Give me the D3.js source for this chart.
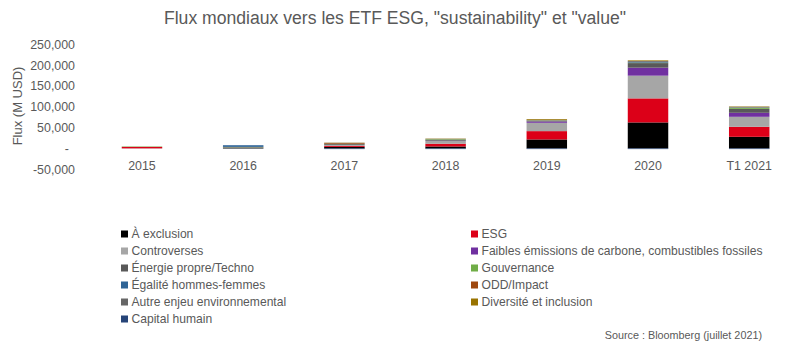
<!DOCTYPE html>
<html>
<head>
<meta charset="utf-8">
<script src="https://cdn.jsdelivr.net/npm/d3@7"></script>
<style>
  html, body { margin: 0; padding: 0; background: #fff; }
  svg { display: block; font-family: "Liberation Sans", Arial, sans-serif; }
</style>
</head>
<body>
<svg id="chart" width="789" height="342"></svg>
<script>
// Années (catégories de l'axe horizontal)
const categories = ["2015", "2016", "2017", "2018", "2019", "2020", "T1 2021"];

// Flux par thème, en millions de USD
const aExclusion   = [300, 1200, 3800, 4800, 21600, 62500, 28000];
const esg          = [3500, 300, 2400, 6500, 20000, 57700, 24000];
const controverses = [0, 0, 2000, 6500, 20000, 54500, 24000];
const faibles      = [0, 0, 300, 800, 3200, 19200, 9600];
const energie      = [0, 1500, 2000, 2000, 2000, 11000, 9500];
const gouvernance  = [1000, 800, 500, 1500, 800, 1000, 2400];
const egalite      = [0, 4000, 200, 300, 300, 1500, 600];
const odd          = [0, 0, 1800, 300, 400, 500, 300];
const autre        = [0, 0, 500, 400, 500, 2000, 1500];
const diversite    = [0, 0, 500, 700, 1800, 1500, 1000];
const capital      = [0, -300, -1500, -1500, -1500, -1500, -1500];

// Légende, ordre d'empilement et couleurs
const seriesNames = [
  "À exclusion", "ESG", "Controverses",
  "Faibles émissions de carbone, combustibles fossiles",
  "Énergie propre/Techno", "Gouvernance", "Égalité hommes-femmes",
  "ODD/Impact", "Autre enjeu environnemental", "Diversité et inclusion",
  "Capital humain"
];
const seriesValues = [aExclusion, esg, controverses, faibles, energie, gouvernance,
                      egalite, odd, autre, diversite, capital];
const seriesColors = ["#000000", "#dc0018", "#a6a6a6", "#7030a0", "#595959", "#70ad47",
                      "#2f6496", "#9e480e", "#666666", "#997300", "#264478"];

// Graduations de l'axe vertical
const yTicks = [-50000, 0, 50000, 100000, 150000, 200000, 250000];

const textColor = "#595959";
const svg = d3.select("#chart");

// Table ligne par année pour d3.stack
const table = categories.map((c, i) => {
  const row = { cat: c };
  seriesNames.forEach((n, k) => { row[n] = seriesValues[k][i]; });
  return row;
});

const stacked = d3.stack()
  .keys(seriesNames)
  .offset(d3.stackOffsetDiverging)(table);

const x = d3.scaleBand()
  .domain(categories)
  .range([101.5, 789.7])
  .paddingInner(0.6)
  .paddingOuter(0.2);

const y = d3.scaleLinear()
  .domain([-50000, 250000])
  .range([169.3, 44.3]);

// Titre
svg.append("text")
  .attr("x", 395)
  .attr("y", 24)
  .attr("text-anchor", "middle")
  .attr("font-size", 17.6)
  .attr("fill", textColor)
  .text('Flux mondiaux vers les ETF ESG, "sustainability" et "value"');

// Axe vertical (graduations uniquement)
const fmt = d3.format(",");
const yAxis = svg.append("g")
  .attr("transform", "translate(78,0)")
  .call(d3.axisLeft(y)
    .tickValues(yTicks)
    .tickSize(0)
    .tickPadding(3)
    .tickFormat(d => d === 0 ? "-" : fmt(d).replace("\u2212", "-")));
yAxis.select(".domain").remove();
yAxis.selectAll("text")
  .attr("font-size", 12.4)
  .attr("font-family", "Liberation Sans, Arial, sans-serif")
  .attr("fill", textColor)
  .attr("dx", d => d === 0 ? -6 : 0);

// Titre de l'axe vertical
svg.append("text")
  .attr("transform", "translate(22,106) rotate(-90)")
  .attr("text-anchor", "middle")
  .attr("font-size", 13)
  .attr("fill", textColor)
  .text("Flux (M USD)");

// Barres empilées
svg.append("g")
  .selectAll("g")
  .data(stacked)
  .join("g")
  .attr("fill", (d, i) => seriesColors[i])
  .selectAll("rect")
  .data(d => d)
  .join("rect")
  .attr("x", d => x(d.data.cat))
  .attr("width", x.bandwidth())
  .attr("y", d => y(Math.max(d[0], d[1])))
  .attr("height", d => Math.abs(y(d[0]) - y(d[1])));

// Libellés des catégories
svg.append("g")
  .selectAll("text")
  .data(categories)
  .join("text")
  .attr("x", d => x(d) + x.bandwidth() / 2)
  .attr("y", y(0) + 22)
  .attr("text-anchor", "middle")
  .attr("font-size", 12.4)
  .attr("fill", textColor)
  .text(d => d);

// Légende sur deux colonnes
const legendCols = [121, 471];
const legend = svg.append("g")
  .selectAll("g")
  .data(seriesNames)
  .join("g")
  .attr("transform", (d, i) => `translate(${legendCols[i % 2]},${234 + Math.floor(i / 2) * 17})`);
legend.append("rect")
  .attr("x", 0)
  .attr("y", -3.5)
  .attr("width", 7)
  .attr("height", 7)
  .attr("fill", (d, i) => seriesColors[i]);
legend.append("text")
  .attr("x", 10.5)
  .attr("y", 0)
  .attr("dy", "0.35em")
  .attr("font-size", 12.1)
  .attr("fill", textColor)
  .text(d => d);

// Source
svg.append("text")
  .attr("x", 762)
  .attr("y", 339)
  .attr("text-anchor", "end")
  .attr("font-size", 10.8)
  .attr("fill", textColor)
  .text("Source : Bloomberg (juillet 2021)");
</script>
</body>
</html>
